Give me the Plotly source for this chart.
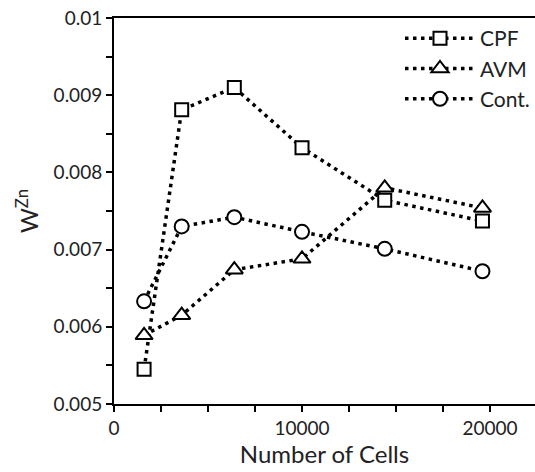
import plotly.graph_objects as go

cells = [1600, 3600, 6400, 10000, 14400, 19600]
cpf = [0.00545, 0.00881, 0.00910, 0.00832, 0.00764, 0.00737]
avm = [0.00589, 0.00615, 0.00674, 0.00688, 0.00780, 0.00754]
cont = [0.00633, 0.00730, 0.00742, 0.00723, 0.00701, 0.00672]

series = [
    ("CPF", cpf, "square", 13),
    ("AVM", avm, "triangle-up", 15),
    ("Cont.", cont, "circle", 14),
]

y_ticks = [0.005, 0.006, 0.007, 0.008, 0.009, 0.01]
y_labels = ["0.005", "0.006", "0.007", "0.008", "0.009", "0.01"]
x_ticks = [0, 10000, 20000]
x_labels = ["0", "10000", "20000"]

fig = go.Figure()
for name, vals, sym, sz in series:
    fig.add_trace(go.Scatter(
        x=cells, y=vals, name=name, mode="lines+markers",
        line=dict(color="black", width=3.5, dash="3.5px,4.5px"),
        marker=dict(symbol=sym, size=sz, color="white",
                    line=dict(color="black", width=2)),
    ))

font = "Lato, Open Sans, sans-serif"
fig.update_layout(
    width=535, height=472,
    margin=dict(l=114, r=0, t=18, b=68),
    plot_bgcolor="white", paper_bgcolor="white",
    font=dict(family=font, color="#222", size=19),
    showlegend=True,
    legend=dict(x=1, xanchor="right", y=1.0, yanchor="top",
                bgcolor="rgba(0,0,0,0)", font=dict(size=21),
                itemwidth=70, tracegroupgap=0),
    xaxis=dict(
        range=[0, 22394], tickvals=x_ticks, ticktext=x_labels,
        showline=True, linecolor="black", linewidth=2, mirror=True,
        ticks="outside", ticklen=6, tickwidth=2, tickcolor="black",
        minor=dict(dtick=2500, tick0=0, ticks="outside", ticklen=6,
                   tickwidth=2, tickcolor="black"),
        showgrid=False, zeroline=False,
        title=dict(text="Number of Cells", font=dict(size=24), standoff=6),
    ),
    yaxis=dict(
        range=[0.005, 0.01], tickvals=y_ticks, ticktext=y_labels,
        showline=True, linecolor="black", linewidth=2,
        ticks="outside", ticklen=6, tickwidth=2, tickcolor="black",
        minor=dict(dtick=0.0005, tick0=0.005, ticks="outside", ticklen=6,
                   tickwidth=2, tickcolor="black"),
        showgrid=False, zeroline=False,
        title=dict(text="W<sup>Zn</sup>", font=dict(size=24), standoff=8),
    ),
)

fig.write_html("out.html")
